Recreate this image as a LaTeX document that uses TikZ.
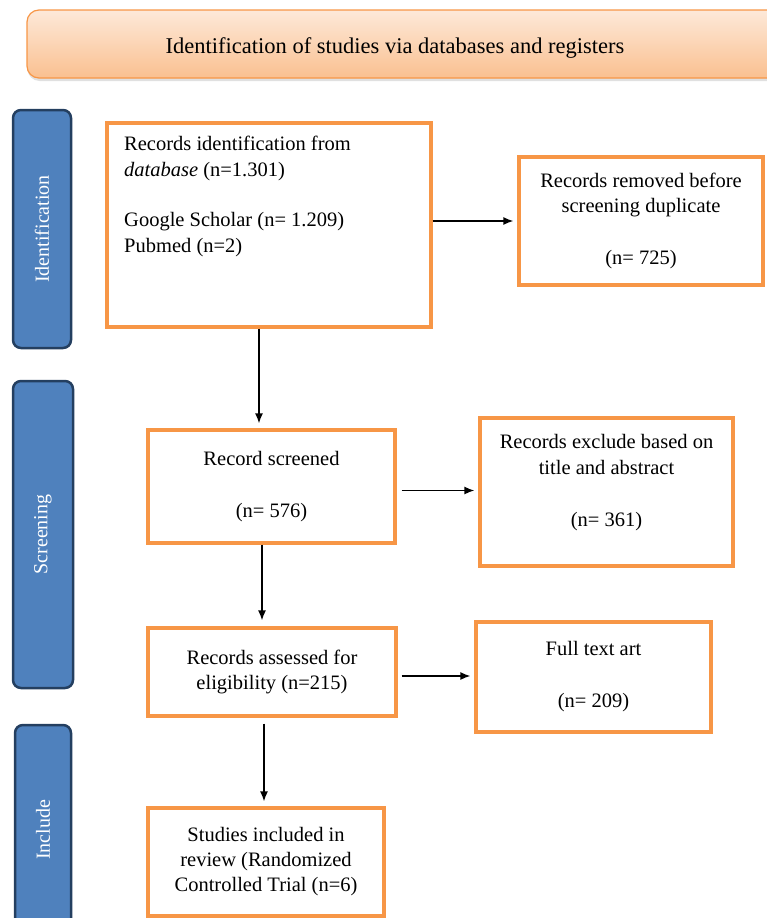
\documentclass[tikz,border=0pt]{standalone}
\usepackage{fontspec}
\setmainfont{Liberation Serif}
\usepackage{tikz}
\usetikzlibrary{arrows.meta}
\usetikzlibrary{shadows}

\definecolor{boxorange}{HTML}{F79646}
\definecolor{barblue}{HTML}{4F81BD}
\definecolor{bardark}{HTML}{243F60}
\definecolor{hdrtop}{HTML}{FDE9D9}
\definecolor{hdrbot}{HTML}{FAC090}

\begin{document}
\begin{tikzpicture}[x=1pt,y=-1pt]
\tikzset{
  obox/.style={draw=boxorange,line width=3.2pt,fill=white,inner sep=0pt,align=center,
    font=\fontsize{20.5}{25}\selectfont},
  bar/.style={draw=bardark,line width=2.5pt,fill=barblue,rounded corners=8pt,inner sep=0pt,
    rotate=90,text=white,font=\fontsize{20}{24}\selectfont},
  txt/.style={inner sep=0pt,font=\fontsize{20.5}{25.5}\selectfont},
  flow/.style={line width=1.5pt,-{Latex[length=10pt,width=8pt]},shorten >=4pt}
}
\useasboundingbox (0,0) rectangle (767,918);

% Cabecera
\node (hdr) at (413,44) [draw=boxorange,line width=1.2pt,rounded corners=12pt,
  top color=hdrtop,bottom color=hdrbot,minimum width=772pt,minimum height=68pt,
  drop shadow={shadow xshift=0.5pt,shadow yshift=-3pt,opacity=0.3,fill=black!40}] {};
\node (hdrtxt) at (395,48) [txt,font=\fontsize{22.5}{27}\selectfont] {Identification of studies via databases and registers};

% Barras laterales
\node (idbar) at (42,229) [bar,minimum width=238pt,minimum height=58pt] {Identification};
\node (scrbar) at (43,534.5) [bar,minimum width=307pt,minimum height=60pt] {Screening};
\node (incbar) at (43,830) [bar,minimum width=210pt,minimum height=56pt] {Include};

% Cajas
\node (found) at (269,225) [obox,minimum width=324pt,minimum height=204pt] {};
\node (foundtxt) at (124,136) [txt,anchor=north west,align=left] {Records identification from\\
  \textit{database} (n=1.301)\\[25pt]Google Scholar (n= 1.209)\\Pubmed (n=2)};
\node (removed) at (641,221) [obox,minimum width=244pt,minimum height=128pt]
  {Records removed before\\screening duplicate\\[27pt](n= 725)};
\node (screened) at (271.5,486.5) [obox,minimum width=247pt,minimum height=113pt]
  {Record screened\\[27pt](n= 576)};
\node (excluded) at (606.5,492) [obox,minimum width=253pt,minimum height=148pt] {};
\node (excludedtxt) at (606.5,483) [txt,align=center]
  {Records exclude based on\\title and abstract\\[27pt](n= 361)};
\node (eligible) at (272,672) [obox,minimum width=248pt,minimum height=88pt]
  {Records assessed for\\eligibility (n=215)};
\node (fulltext) at (593.5,677) [obox,minimum width=235pt,minimum height=110pt]
  {Full text art\\[27pt](n= 209)};
\node (included) at (266,862) [obox,minimum width=236pt,minimum height=108pt]
  {Studies included in\\review (Randomized\\Controlled Trial (n=6)};

% Flechas
\draw[flow] (found.east |- removed.west) -- (removed.west);
\draw[flow,shorten >=5pt] ([xshift=-10pt]found.south) -- ([xshift=-10pt]found.south |- screened.north);
\draw[flow,shorten <=5pt] ([yshift=-4pt]screened.east) -- ([yshift=-4pt]screened.east -| excluded.west);
\draw[flow,shorten >=6pt] ([xshift=-9.5pt]screened.south) -- ([xshift=-9.5pt]screened.south |- eligible.north);
\draw[flow,shorten <=4pt] ([yshift=-4pt]eligible.east) -- ([yshift=-4pt]eligible.east -| fulltext.west);
\draw[flow,shorten <=6pt,shorten >=5pt] ([xshift=-8pt]eligible.south) -- ([xshift=-8pt]eligible.south |- included.north);

\end{tikzpicture}
\end{document}
